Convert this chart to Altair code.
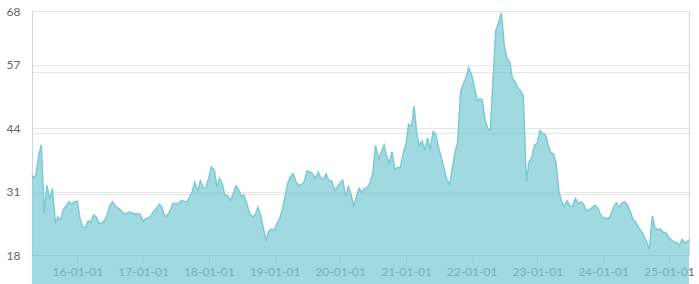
import altair as alt
import pandas as pd

# ---- data (semi-monthly samples: 1st and 15th of month) ----
v2015 = [34.4, 33.8, 34.2, 38.5, 40.6, 26.5, 32.3, 29.5, 31.6, 24.7, 25.8, 25.2, 27.3, 28.1, 28.9, 28.5, 28.9]  # Apr24, May1 .. Dec15
v2016 = [29.0, 25.6, 23.7, 23.6, 25.0, 24.7, 26.2, 25.8, 24.5, 24.6, 25.1, 26.2, 28.2, 28.9, 27.9, 27.6, 27.1, 26.5, 26.5, 26.8, 26.6, 26.4, 26.5, 26.3]
v2017 = [24.9, 25.5, 25.6, 26.1, 27.0, 27.6, 28.4, 27.8, 26.0, 26.1, 27.2, 28.6, 28.5, 28.6, 29.2, 29.0, 28.9, 29.8, 31.0, 32.9, 31.1, 33.2, 31.8, 31.7]
v2018 = [33.9, 36.1, 35.3, 32.0, 33.7, 32.7, 30.1, 30.2, 29.2, 30.4, 32.2, 31.4, 30.0, 30.3, 28.4, 26.6, 25.8, 26.2, 27.8, 26.3, 23.3, 21.0, 23.0, 23.3]
v2019 = [23.1, 24.4, 25.7, 27.5, 30.1, 32.7, 34.1, 34.7, 33.0, 32.2, 32.5, 33.0, 35.2, 35.0, 34.7, 33.7, 35.0, 33.8, 33.6, 34.6, 33.1, 33.2, 31.3, 31.9]
v2020 = [32.8, 33.3, 30.0, 32.0, 30.5, 28.0, 30.0, 31.7, 30.8, 31.6, 31.8, 32.8, 34.8, 40.5, 37.7, 39.0, 40.5, 38.3, 36.8, 39.1, 35.5, 35.9, 36.0, 38.6]
v2021 = [40.7, 44.8, 44.4, 48.5, 43.2, 40.4, 41.4, 39.4, 42.0, 39.5, 43.3, 42.8, 40.0, 38.2, 35.7, 33.5, 32.5, 35.7, 39.2, 41.1, 51.5, 53.0, 54.4, 56.4]
v2022 = [54.9, 52.6, 49.7, 50.0, 49.8, 45.9, 43.9, 43.5, 55.0, 64.0, 65.8, 67.6, 61.0, 58.5, 57.5, 54.2, 53.4, 52.2, 51.6, 50.6, 33.0, 36.9, 38.0, 40.4]
v2023 = [41.0, 43.5, 42.9, 42.6, 40.8, 39.0, 38.7, 36.8, 31.0, 29.1, 27.9, 29.1, 28.0, 28.0, 29.6, 28.6, 28.9, 28.4, 27.1, 27.2, 27.7, 28.2, 27.8, 26.6]
v2024 = [25.5, 25.6, 25.5, 26.4, 27.9, 28.7, 27.8, 28.7, 28.9, 28.3, 26.9, 25.3, 24.7, 23.7, 22.9, 22.0, 20.5, 19.2, 26.0, 23.6, 23.2, 23.3, 22.6, 22.6]
v2025 = [21.6, 21.1, 20.6, 20.5, 20.0, 21.2, 20.5, 20.8, 21.1]  # Jan1 .. Apr15, Apr23

first_date = "2015-04-24"
last_date = "2025-04-23"
tick_years = [2016, 2017, 2018, 2019, 2020, 2021, 2022, 2023, 2024, 2025]
y_ticks_left = [18, 31, 44, 57, 68]
y_ticks_right = [18, 30.5, 43, 55.5, 68]
y_domain = [18, 68]

# ---- build the table ----
dates = [first_date]
for m in range(5, 13):
    dates += [f"2015-{m:02d}-01", f"2015-{m:02d}-15"]
for yr in range(2016, 2025):
    for m in range(1, 13):
        dates += [f"{yr}-{m:02d}-01", f"{yr}-{m:02d}-15"]
for m in range(1, 5):
    dates += [f"2025-{m:02d}-01", f"2025-{m:02d}-15"]
dates.append(last_date)

values = v2015 + v2016 + v2017 + v2018 + v2019 + v2020 + v2021 + v2022 + v2023 + v2024 + v2025
assert len(dates) == len(values), (len(dates), len(values))
df = pd.DataFrame({"date": dates, "value": values})

FONT = "Lato"
LINE = "#7ccbd3"
AXIS_BLUE = "#ccd6eb"
GRID = "#e6e6e6"
LABEL = "#666666"

def dt(s):
    y, m, d = (int(p) for p in s.split("-"))
    return alt.DateTime(year=y, month=m, date=d, utc=True)

x_enc = alt.X(
    "date:T",
    scale=alt.Scale(type="utc", domain=[dt(first_date), dt(last_date)]),
    axis=alt.Axis(
        values=[alt.DateTime(year=y, month=1, date=1, utc=True) for y in tick_years],
        format="%y-%m-%d",
        grid=False,
        domainColor=AXIS_BLUE,
        tickColor=AXIS_BLUE,
        tickSize=8,
        labelPadding=3,
        labelColor=LABEL,
        labelFont=FONT,
        labelFontSize=12,
        labelFlush=False,
        labelOverlap=False,
        title=None,
    ),
)

area = alt.Chart(df).mark_area(color=LINE, fillOpacity=0.72).encode(
    x=x_enc,
    y=alt.Y(
        "value:Q",
        scale=alt.Scale(domain=y_domain, nice=False, zero=False),
        axis=alt.Axis(
            values=y_ticks_left,
            grid=True,
            gridColor=GRID,
            ticks=False,
            domainColor=AXIS_BLUE,
            labelColor=LABEL,
            labelFont=FONT,
            labelFontSize=12,
            labelPadding=12,
            title=None,
        ),
    ),
)

line = alt.Chart(df).mark_line(color=LINE, strokeWidth=1.5).encode(
    x=x_enc,
    y=alt.Y(
        "value:Q",
        scale=alt.Scale(domain=y_domain, nice=False, zero=False),
        axis=alt.Axis(
            orient="right",
            values=y_ticks_right,
            labels=False,
            ticks=False,
            grid=True,
            gridColor=GRID,
            domainColor=AXIS_BLUE,
            title=None,
        ),
    ),
)

chart = (
    alt.layer(area, line)
    .resolve_scale(y="independent")
    .properties(
        width=657,
        height=244,
        autosize=alt.AutoSizeParams(type="none"),
        padding={"left": 32, "top": 11, "right": 10, "bottom": 29},
    )
    .configure_view(stroke=None)
)

chart.save("out.html", embed_options={"renderer": "svg", "actions": False})
